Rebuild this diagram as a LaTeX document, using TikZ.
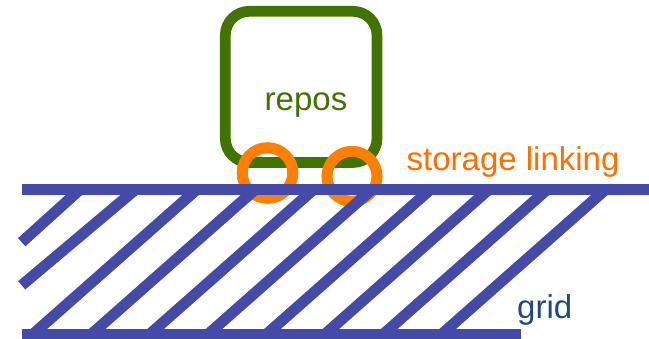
\documentclass[tikz,border=0pt]{standalone}
\usepackage{fontspec}
\setmainfont{Liberation Sans}
\definecolor{gridblue}{RGB}{68,74,168}
\definecolor{gridtext}{RGB}{31,73,125}
\definecolor{repogreen}{RGB}{64,115,0}
\definecolor{linkorange}{RGB}{255,127,0}
\definecolor{labelorange}{RGB}{255,110,0}
\tikzset{
  bar/.style={draw=gridblue, line width=11pt, line cap=butt},
  hatchline/.style={draw=gridblue, line width=11pt, line cap=butt},
  repobox/.style={draw=repogreen, line width=10.7pt, rounded corners=24pt},
  linkring/.style={draw=linkorange, line width=11pt},
  lbl/.style={inner sep=0pt, font=\fontsize{33}{40}\selectfont},
}
\begin{document}
\begin{tikzpicture}[x=1pt, y=-1pt]
  \useasboundingbox (0,0) rectangle (649,338);

  % repository box
  \draw[repobox] (225.3,11.3) rectangle (377,162.5);
  \node[lbl, text=repogreen, anchor=base] (repos) at (306,110) {repos};

  % storage links
  \draw[linkring] (267.5,173) circle (25.3);
  \draw[linkring] (352,176.3) circle (25);
  \node[lbl, text=labelorange, anchor=base west] (links) at (406.5,170) {storage linking};

  % hatched grid body
  \draw[hatchline] (80,189.5) -- (21.7,242.2);
  \draw[hatchline] (135.5,189.5) -- (21.7,285.3);
  \foreach \k in {2,...,9} {
    \pgfmathsetmacro{\xt}{80+58.4*\k}
    \pgfmathsetmacro{\xb}{\xt-164.2}
    \draw[hatchline] (\xt,189.5) -- (\xb,334.5);
  }
  \draw[bar] (21.7,189.5) -- (649,189.5);
  \draw[bar] (21.7,334.5) -- (520.7,334.5);
  \node[lbl, text=gridtext, anchor=base west] (grid) at (517,318) {grid};
\end{tikzpicture}
\end{document}
